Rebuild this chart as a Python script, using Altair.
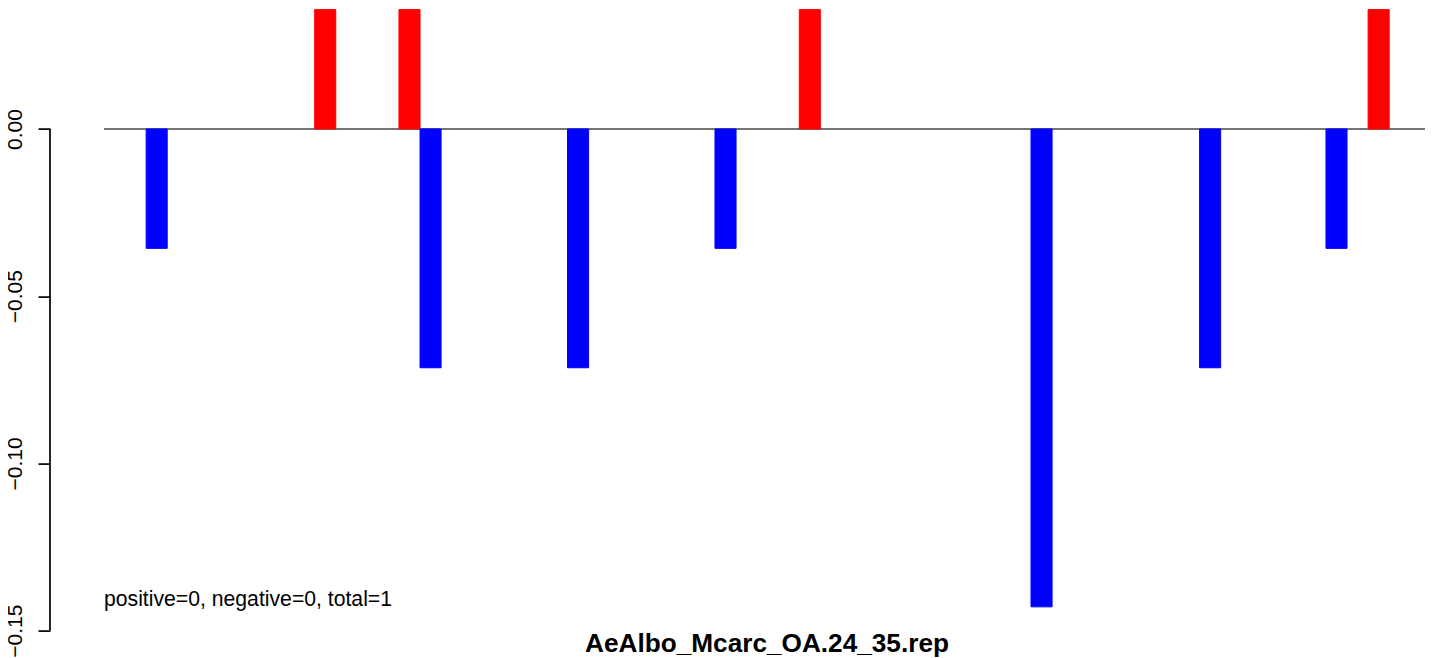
import altair as alt
import pandas as pd

# bar slots (bar index positions along x) and bar values
slots = [0, 8, 12, 13, 20, 27, 31, 42, 50, 56, 58]
values = [-0.0357, 0.0357, 0.0357, -0.0714, -0.0714, -0.0357, 0.0357, -0.1429, -0.0714, -0.0357, 0.0357]
y_ticks = [0.0, -0.05, -0.10, -0.15]
note_text = ["positive=0, negative=0, total=1"]
title_text = ["AeAlbo_Mcarc_OA.24_35.rep"]

X_MIN, X_MAX = -2, 60.7
Y_MIN, Y_MAX = -0.15, 0.0357
W, H = 1321, 621
FONT = "Liberation Sans"

bars_df = pd.DataFrame({
    "start": slots,
    "end": [s + 1 for s in slots],
    "value": values,
    "sign": ["pos" if v > 0 else "neg" for v in values],
})

xs = alt.Scale(domain=[X_MIN, X_MAX], nice=False, zero=False)
ys = alt.Scale(domain=[Y_MIN, Y_MAX], nice=False, zero=False)
yaxis = alt.Axis(values=y_ticks, format=".2f", labelAngle=270, labelAlign="center",
                 labelBaseline="alphabetic", labelFontSize=21, labelFont=FONT,
                 labelColor="black", tickColor="black", tickWidth=1.7, tickSize=12,
                 labelPadding=17, domain=False, grid=False, offset=54, title=None)

zero_line = alt.Chart(pd.DataFrame({"value": [0.0]})).mark_rule(
    color="#757575", strokeWidth=1.8
).encode(
    y=alt.Y("value:Q", scale=ys, axis=yaxis),
    x=alt.value(0), x2=alt.value(W),
)

color_scale = alt.Scale(domain=["neg", "pos"], range=["#0000ff", "#ff0000"])
bars = alt.Chart(bars_df).mark_bar(strokeWidth=1).encode(
    x=alt.X("start:Q", scale=xs, axis=None),
    x2="end:Q",
    y=alt.Y("value:Q", scale=ys, axis=yaxis),
    y2=alt.datum(0),
    color=alt.Color("sign:N", scale=color_scale, legend=None),
    stroke=alt.Stroke("sign:N", scale=color_scale, legend=None),
)

axis_line = alt.Chart(pd.DataFrame({"value": [y_ticks[0]], "value2": [y_ticks[-1]]})).mark_rule(
    color="black", strokeWidth=1.7
).encode(
    x=alt.value(-54),
    y=alt.Y("value:Q", scale=ys, axis=yaxis),
    y2="value2:Q",
)

note = alt.Chart(pd.DataFrame({"pos": [X_MIN], "value": [-0.141], "label": note_text})).mark_text(
    align="left", baseline="middle", fontSize=21.2, font=FONT, color="black"
).encode(
    x=alt.X("pos:Q", scale=xs, axis=None),
    y=alt.Y("value:Q", scale=ys, axis=yaxis),
    text="label:N",
)

title = alt.Chart(pd.DataFrame({"label": title_text})).mark_text(
    align="center", baseline="alphabetic", fontSize=26.2, font=FONT, fontWeight="bold", color="black"
).encode(
    x=alt.value(663),
    y=alt.value(642.5),
    text="label:N",
)

chart = alt.layer(zero_line, bars, axis_line, note, title).properties(
    width=W, height=H,
    autosize=alt.AutoSizeParams(type="none"),
    padding={"left": 96, "top": 1.6, "right": 0, "bottom": 27},
    background="white",
).configure_view(stroke=None)

chart.save("out.html", embed_options={"renderer": "svg", "actions": False})
